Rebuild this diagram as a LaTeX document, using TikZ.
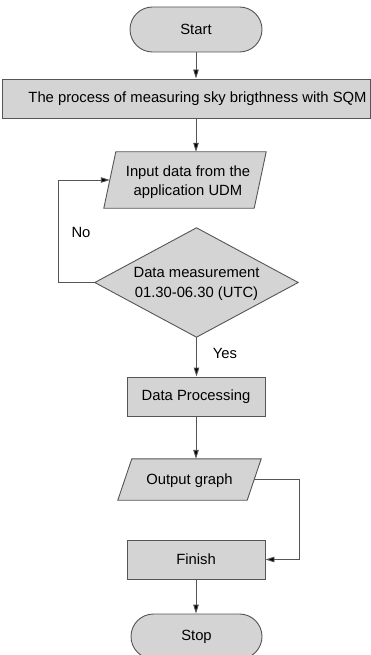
\documentclass[tikz,border=0pt]{standalone}
\usepackage{fontspec}
\setmainfont{Liberation Sans}
\usetikzlibrary{arrows.meta,shapes.misc}
\definecolor{boxfill}{HTML}{D4D4D4}
\definecolor{edge}{HTML}{555555}
\tikzset{
  base/.style={font=\fontsize{14.8}{19.5}\selectfont, align=center, inner sep=0pt},
  boxed/.style={base, draw=edge, fill=boxfill, line width=0.9pt, rectangle},
  term/.style={base, draw=edge, fill=boxfill, line width=0.9pt, rounded rectangle},
  ghost/.style={base, rectangle},
  shapeline/.style={draw=edge, fill=boxfill, line width=0.9pt},
  conn/.style={draw=edge, line width=0.9pt, -{Triangle[length=9pt,width=5.5pt,fill=black]}},
  lbl/.style={font=\fontsize{14.8}{19.5}\selectfont, inner sep=0pt}
}
\begin{document}
\begin{tikzpicture}[x=1pt,y=-1pt]
\useasboundingbox (0,0) rectangle (371,655);
\begin{scope}
\clip (0,0) rectangle (371,655);
% nodes
\node[term, minimum width=132, minimum height=45] (start) at (196,29.5) {Start};
\node[boxed, minimum width=368, minimum height=39] (proc) at (186,98.5) {};
\node[base] (proctext) at (197.5,99) {The process of measuring sky brigthness with SQM};
% input parallelogram
\node[ghost, minimum width=150, minimum height=56] (inp) at (185,180) {};
\path[shapeline] ([xshift=6]inp.north west) -- ([xshift=6]inp.north east) -- ([xshift=-6]inp.south east) -- ([xshift=-6]inp.south west) -- cycle;
\node[base] (inptext) at (188,182) {Input data from the\\application UDM};
% diamond
\node[ghost, minimum width=203, minimum height=109] (dec) at (196.5,282.5) {};
\path[shapeline] (dec.north) -- (dec.east) -- (dec.south) -- (dec.west) -- cycle;
\node[base] (dectext) at (196.5,284) {Data measurement\\01.30-06.30 (UTC)};
% processing
\node[boxed, minimum width=138, minimum height=39] (dp) at (196,396.5) {Data Processing};
% output parallelogram
\node[ghost, minimum width=129, minimum height=41] (og) at (189.5,479.5) {};
\path[shapeline] ([xshift=7]og.north west) -- ([xshift=7]og.north east) -- ([xshift=-7]og.south east) -- ([xshift=-7]og.south west) -- cycle;
\node[base] (ogtext) at (189.5,480.5) {Output graph};
% finish
\node[boxed, minimum width=138, minimum height=39] (fin) at (196,559.5) {Finish};
\node[term, minimum width=131, minimum height=45] (stop) at (196.5,636.5) {Stop};
% connectors
\draw[conn] (start.south) -- (start.south |- proc.north);
\draw[conn] (start.south |- proc.south) -- (start.south |- inp.north);
\coordinate (lp) at (58,0);
\draw[conn] (dec.west) -- (dec.west -| lp) -- (inp.west -| lp) -- (inp.west);
\draw[conn] (dec.south) -- (dp.north -| dec.south);
\draw[conn] (dp.south) -- (dp.south |- og.north);
\coordinate (rp) at (299,0);
\draw[conn] (og.east) -- (og.east -| rp) -- (fin.east -| rp) -- (fin.east);
\draw[conn] (fin.south) -- (fin.south |- stop.north);
% labels
\node[lbl] (no) at (81,232) {No};
\node[lbl] (yes) at (225,353) {Yes};
\end{scope}
\end{tikzpicture}
\end{document}
